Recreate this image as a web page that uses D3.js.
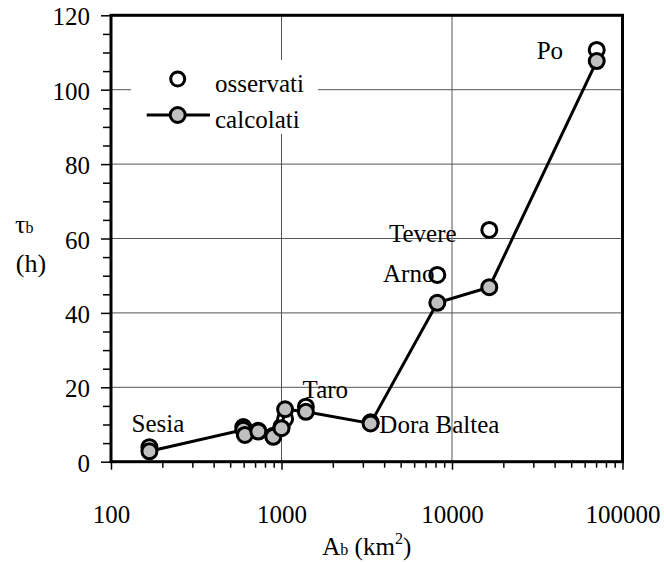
<!DOCTYPE html>
<html>
<head>
<meta charset="utf-8">
<script src="https://cdn.jsdelivr.net/npm/d3@7"></script>
<style>
  body { margin: 0; background: #fff; }
</style>
</head>
<body>
<svg id="chart" width="664" height="562"></svg>
<script>
// basin areas (km2), observed and calculated lag times (h)
var areas    = [168, 597, 610, 731, 895, 1000, 1050, 1390, 3330, 8200, 16550, 70600];
var observed = [3.9, 9.3, 7.6, 8.3, 7.0, 9.4, 11.5, 14.8, 10.6, 50.2, 62.3, 110.7];
var computed = [2.8, 8.6, 7.2, 8.1, 6.7, 9.0, 14.1, 13.4, 10.3, 42.7, 46.9, 107.7];

var xMajor = [100, 1000, 10000, 100000];
var yMajor = [0, 20, 40, 60, 80, 100, 120];

// river name labels (left end of the text, in data units)
var riverNames = ["Sesia", "Taro", "Dora Baltea", "Arno", "Tevere", "Po"];
var riverLabelArea = [132, 1330, 3750, 3940, 4270, 31400];
var riverLabelTau  = [8, 17.2, 7.7, 48.3, 59.1, 108.2];

var legendNames = ["osservati", "calcolati"];

var FONT = "'Liberation Serif', Tinos, 'Times New Roman', 'DejaVu Serif', serif";
var FS = 25;

var svg = d3.select("#chart");
var margin = {left: 111, right: 41.5, top: 15.3, bottom: 100.3};
var W = 664, H = 562;

var x = d3.scaleLog().domain([100, 100000]).range([margin.left, W - margin.right]);
var y = d3.scaleLinear().domain([0, 120]).range([H - margin.bottom, margin.top]);

var grey = "#c0c0c0";

// gridlines
var grid = svg.append("g").attr("class", "grid");
grid.selectAll(".gy").data(yMajor.slice(1, -1)).enter().append("line")
  .attr("x1", x(100)).attr("x2", x(100000))
  .attr("y1", function(d) { return y(d); }).attr("y2", function(d) { return y(d); })
  .attr("stroke", "#555").attr("stroke-width", 1);
grid.selectAll(".gx").data(xMajor.slice(1, -1)).enter().append("line")
  .attr("x1", function(d) { return x(d); }).attr("x2", function(d) { return x(d); })
  .attr("y1", y(0)).attr("y2", y(120))
  .attr("stroke", "#555").attr("stroke-width", 1);

// x axis: minor and major ticks
var xMinor = x.ticks().filter(function(d) { return xMajor.indexOf(d) < 0; });
var xMinorAxis = svg.append("g").attr("transform", "translate(0," + y(0) + ")")
  .call(d3.axisBottom(x).tickValues(xMinor).tickSize(6).tickFormat(""));
var xAxis = svg.append("g").attr("transform", "translate(0," + y(0) + ")")
  .call(d3.axisBottom(x).tickValues(xMajor).tickSize(8).tickFormat(d3.format("d")));
xAxis.selectAll("text").attr("y", 61).attr("dy", 0);

// y axis: minor and major ticks
var yMinor = d3.range(0, 121, 5).filter(function(d) { return d % 20 !== 0; });
var yMinorAxis = svg.append("g").attr("transform", "translate(" + x(100) + ",0)")
  .call(d3.axisLeft(y).tickValues(yMinor).tickSize(8).tickFormat(""));
var yAxis = svg.append("g").attr("transform", "translate(" + x(100) + ",0)")
  .call(d3.axisLeft(y).tickValues(yMajor).tickSize(10));
yAxis.selectAll("text").attr("x", -21).attr("dy", "0.38em");

[xMinorAxis, xAxis, yMinorAxis, yAxis].forEach(function(a) {
  a.attr("font-family", FONT).attr("font-size", FS);
  a.selectAll("text").attr("fill", "#000");
  a.select(".domain").remove();
  a.selectAll("line").attr("stroke", "#000").attr("stroke-width", 1.5);
});

// plot frame
svg.append("rect")
  .attr("x", x(100)).attr("y", y(120))
  .attr("width", x(100000) - x(100)).attr("height", y(0) - y(120))
  .attr("fill", "none").attr("stroke", "#000").attr("stroke-width", 3);

// legend (white box hides the gridlines behind)
var legend = svg.append("g");
legend.append("rect").attr("x", 131).attr("y", 60).attr("width", 187).attr("height", 74).attr("fill", "#fff");
legend.append("circle").attr("cx", 177.7).attr("cy", 79).attr("r", 7)
  .attr("fill", "#fff").attr("stroke", "#000").attr("stroke-width", 3);
legend.append("line").attr("x1", 146.7).attr("x2", 210).attr("y1", 115).attr("y2", 115)
  .attr("stroke", "#000").attr("stroke-width", 3);
legend.append("circle").attr("cx", 177.7).attr("cy", 115).attr("r", 7.5)
  .attr("fill", grey).attr("stroke", "#000").attr("stroke-width", 3);
legend.selectAll("text").data(legendNames).enter().append("text")
  .attr("x", 215).attr("y", function(d, i) { return i === 0 ? 92 : 127.5; })
  .attr("font-family", FONT).attr("font-size", FS).text(function(d) { return d; });

// observed points
svg.append("g").selectAll("circle").data(areas).enter().append("circle")
  .attr("cx", function(d) { return x(d); })
  .attr("cy", function(d, i) { return y(observed[i]); })
  .attr("r", 7.5).attr("fill", "#fff").attr("stroke", "#000").attr("stroke-width", 3);

// calculated line + points
var line = d3.line()
  .x(function(d) { return x(d); })
  .y(function(d, i) { return y(computed[i]); });
svg.append("path").datum(areas).attr("d", line)
  .attr("fill", "none").attr("stroke", "#000").attr("stroke-width", 3);
svg.append("g").selectAll("circle").data(areas).enter().append("circle")
  .attr("cx", function(d) { return x(d); })
  .attr("cy", function(d, i) { return y(computed[i]); })
  .attr("r", 7.5).attr("fill", grey).attr("stroke", "#000").attr("stroke-width", 3);

// river labels
svg.append("g").attr("font-family", FONT).attr("font-size", FS)
  .selectAll("text").data(riverNames).enter().append("text")
  .attr("x", function(d, i) { return x(riverLabelArea[i]); })
  .attr("y", function(d, i) { return y(riverLabelTau[i]); })
  .text(function(d) { return d; });

// axis titles
var yt = svg.append("text").attr("x", 15).attr("y", 233)
  .attr("font-family", FONT).attr("font-size", 26);
yt.append("tspan").text("τ");
yt.append("tspan").attr("font-size", 16).text("b");
svg.append("text").attr("x", 31).attr("y", 272)
  .attr("font-family", FONT).attr("font-size", 26)
  .attr("text-anchor", "middle").text("(h)");

var xt = svg.append("text").attr("x", (x(100) + x(100000)) / 2).attr("y", 555)
  .attr("font-family", FONT).attr("text-anchor", "middle").attr("font-size", FS);
xt.append("tspan").text("A");
xt.append("tspan").attr("font-size", 16).text("b");
xt.append("tspan").text(" (km");
xt.append("tspan").attr("font-size", 16).attr("dy", -11).text("2");
xt.append("tspan").attr("dy", 11).text(")");
</script>
</body>
</html>
